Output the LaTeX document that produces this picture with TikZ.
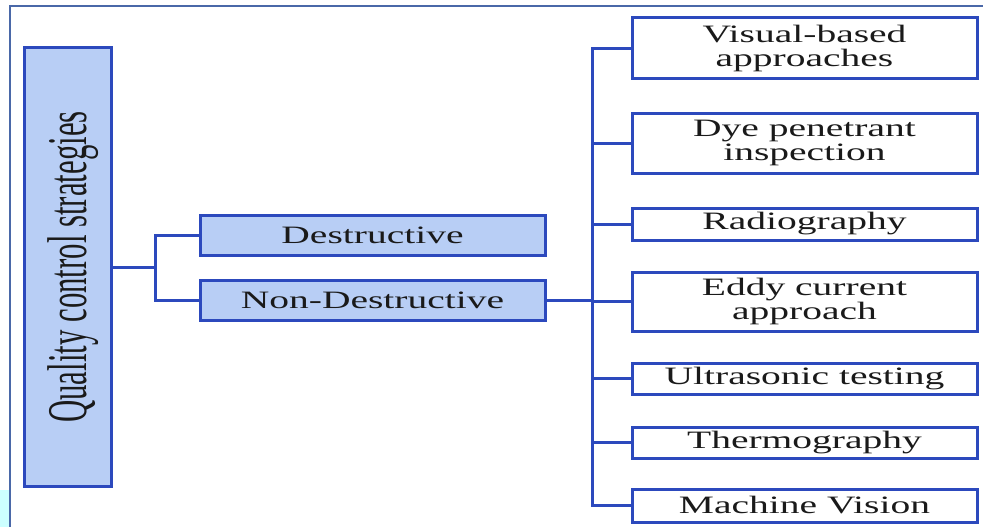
\documentclass[tikz,border=0pt]{standalone}
\usepackage{fontspec}
\setmainfont{Liberation Serif}
\newfontfamily\boxfont[FakeStretch=1.58]{Liberation Serif}
\newfontfamily\vertfont[FakeStretch=0.55]{Liberation Serif}
\definecolor{edgeblue}{HTML}{2C49BD}
\definecolor{lightfill}{HTML}{B8CEF5}
\definecolor{framecol}{HTML}{4A68A8}
\definecolor{ink}{HTML}{1A1A1A}
\definecolor{cyanpatch}{HTML}{CCFFFF}
\begin{document}
\begin{tikzpicture}[x=1pt,y=-1pt,
  catbox/.style={draw=edgeblue, line width=3pt, inner sep=0pt, text=ink,
    font=\boxfont\fontsize{25}{23.5}\selectfont, align=center, minimum width=345pt},
  bluebox/.style={catbox, fill=lightfill},
  whitebox/.style={catbox, fill=white},
  conn/.style={draw=edgeblue, line width=3pt},
  vtext/.style={rotate=90, text=ink, inner sep=0pt, font=\vertfont\fontsize{56}{58}\selectfont}]
\useasboundingbox (0,0) rectangle (983,527);
% page frame remnants
\fill[cyanpatch] (0,490) rectangle (10,527);
\draw[framecol, line width=1.3pt] (10,527) -- (10,6) -- (983,6);
% root
\node[draw=edgeblue, line width=3pt, fill=lightfill, minimum width=87pt, minimum height=438pt, inner sep=0pt] (root) at (67.5,267) {};
\node[vtext] (rootlbl) at (73.5,267) {Quality control strategies};
% second level
\node[bluebox, minimum height=40pt] (des) at (372.5,235) {Destructive};
\node[bluebox, minimum height=40pt] (non) at (372.5,300) {Non-Destructive};
% third level
\node[whitebox, minimum height=61pt] (vis) at (804.5,48.5) {Visual-based\\approaches};
\node[whitebox, minimum height=60pt] (dye) at (804.5,143) {Dye penetrant\\inspection};
\node[whitebox, minimum height=32pt] (rad) at (804.5,224) {Radiography};
\node[whitebox, minimum height=59pt] (edd) at (804.5,301.5) {Eddy current\\approach};
\node[whitebox, minimum height=31pt] (ult) at (804.5,378.5) {Ultrasonic testing};
\node[whitebox, minimum height=31pt] (the) at (804.5,442.5) {Thermography};
\node[whitebox, minimum height=33pt] (mac) at (804.5,505.5) {Machine Vision};
% connectors
\coordinate (j1) at (155,267);
\coordinate (bus) at (592,300);
\draw[conn] (root.east) -- (j1);
\draw[conn] (des.west) -| (j1) |- (non.west);
\draw[conn] (non.east) -- (bus);
\draw[conn] (vis.west) -| (bus) |- (mac.west);
\draw[conn] (dye.west) -- (dye.west -| bus);
\draw[conn] (rad.west) -- (rad.west -| bus);
\draw[conn] (edd.west) -- (edd.west -| bus);
\draw[conn] (ult.west) -- (ult.west -| bus);
\draw[conn] (the.west) -- (the.west -| bus);
\end{tikzpicture}
\end{document}
